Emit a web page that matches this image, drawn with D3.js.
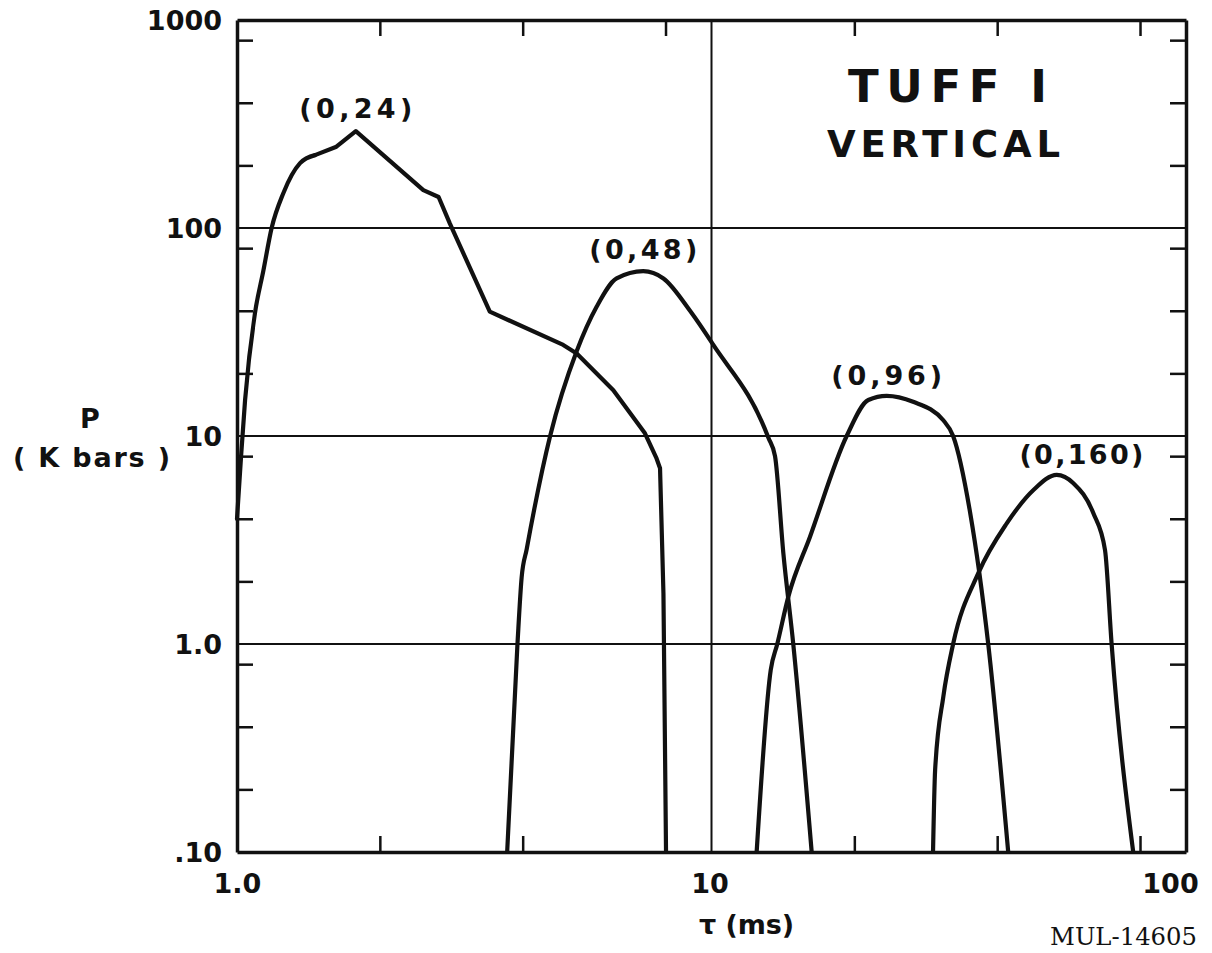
<!DOCTYPE html>
<html>
<head>
<meta charset="utf-8">
<script src="https://cdn.jsdelivr.net/npm/d3@7"></script>
<style>
  html, body { margin: 0; padding: 0; background: #fff; }
  svg { display: block; }
  text.lbl { font-family: "DejaVu Sans", sans-serif; font-weight: bold; fill: #111; }
  text.docno { font-family: "DejaVu Serif", "Liberation Serif", serif; font-weight: normal; fill: #111; }
</style>
</head>
<body>
<svg id="chart" width="1212" height="953"></svg>
<script>
// ---- Data ----
const xMajorTicks = [1, 10, 100];
const xMajorLabels = ["1.0", "10", "100"];
const yMajorTicks = [1000, 100, 10, 1, 0.1];
const yMajorLabels = ["1000", "100", "10", "1.0", ".10"];
const xMinorTicks = [2, 4, 8, 20, 40, 80];
const yMinorTicks = [0.2, 0.4, 0.8, 2, 4, 8, 20, 40, 80, 200, 400, 800];

const curveNames = ["(0,24)", "(0,48)", "(0,96)", "(0,160)"];

const tau_0_24 = [1.0, 1.02, 1.04, 1.091, 1.136, 1.183, 1.252, 1.358, 1.46, 1.62, 1.78, 2.47, 2.66, 2.81, 3.41, 4.87, 5.20, 6.21, 7.24, 7.66, 7.79, 7.92, 8.02];
const p_0_24   = [4.0, 8.0, 14.9, 38.9, 62, 100, 147, 205, 224, 246, 292, 152, 141, 105, 39.6, 27.4, 24.9, 16.6, 10.3, 7.8, 7.0, 1.75, 0.1];

const tau_0_48 = [3.71, 3.90, 3.98, 4.08, 4.57, 5.20, 5.73, 6.31, 7.18, 7.92, 9.01, 10.09, 13.18, 13.61, 14.17, 14.87, 16.26];
const p_0_48   = [0.1, 1.0, 2.09, 2.87, 10, 25.6, 41.9, 57.2, 62, 57.2, 40, 27.4, 9.8, 8.0, 2.74, 1.0, 0.1];

const tau_0_96 = [12.45, 13.33, 13.76, 14.52, 16.13, 19.27, 21.4, 23.4, 26.6, 30.8, 32.3, 35.1, 38.3, 42.2];
const p_0_96   = [0.1, 0.75, 1.0, 1.69, 3.28, 10, 14.9, 15.6, 14.6, 11.9, 10, 4.25, 1.0, 0.1];

const tau_0_160 = [29.3, 29.6, 30.8, 32.3, 36.5, 41.9, 47.7, 53.4, 57.9, 63.8, 67.5, 69.7, 77.4];
const p_0_160   = [0.1, 0.248, 0.558, 1.0, 2.19, 3.8, 5.5, 6.5, 5.93, 4.25, 2.83, 1.0, 0.1];

const curveLabelAnchor = [[1.78, 292], [7.18, 62], [23.4, 15.6], [57.9, 6.5]];

// ---- Layout ----
const svg = d3.select("#chart");
const L = 237, R = 1186, T = 20, B = 852;
const x = d3.scaleLog().domain([1, 100]).range([L, R]);
const y = d3.scaleLog().domain([0.1, 1000]).range([B, T]);
const ink = "#111";

// grid lines (major decades)
svg.append("g").selectAll("line")
  .data(yMajorTicks.filter(v => v > 0.1 && v < 1000))
  .join("line")
  .attr("x1", L).attr("x2", R)
  .attr("y1", d => y(d)).attr("y2", d => y(d))
  .attr("stroke", ink).attr("stroke-width", 2);
svg.append("g").selectAll("line")
  .data(xMajorTicks.filter(v => v > 1 && v < 100))
  .join("line")
  .attr("y1", T).attr("y2", B)
  .attr("x1", d => x(d)).attr("x2", d => x(d))
  .attr("stroke", ink).attr("stroke-width", 2);

// minor inward ticks on all four sides (the axis domains draw the frame)
const tick = 16;
function styleAxis(g) {
  g.selectAll("path.domain").attr("stroke", ink).attr("stroke-width", 3.5);
  g.selectAll(".tick line").attr("stroke", ink).attr("stroke-width", 2.5);
}
svg.append("g").attr("transform", `translate(0,${B})`)
  .call(d3.axisBottom(x).tickValues(xMinorTicks).tickSize(-tick).tickSizeOuter(0).tickFormat(""))
  .call(styleAxis);
svg.append("g").attr("transform", `translate(0,${T})`)
  .call(d3.axisTop(x).tickValues(xMinorTicks).tickSize(-tick).tickSizeOuter(0).tickFormat(""))
  .call(styleAxis);
svg.append("g").attr("transform", `translate(${L},0)`)
  .call(d3.axisLeft(y).tickValues(yMinorTicks).tickSize(-tick).tickSizeOuter(0).tickFormat(""))
  .call(styleAxis);
svg.append("g").attr("transform", `translate(${R},0)`)
  .call(d3.axisRight(y).tickValues(yMinorTicks).tickSize(-tick).tickSizeOuter(0).tickFormat(""))
  .call(styleAxis);

// major tick labels
const yLab = svg.append("g").attr("transform", `translate(${L},0)`)
  .call(d3.axisLeft(y).tickValues(yMajorTicks).tickSize(0).tickPadding(15)
    .tickFormat((d, i) => yMajorLabels[i]));
yLab.select("path.domain").remove();
yLab.selectAll("text").attr("class", "lbl").attr("font-size", 27).attr("dy", "0.36em");

const xLab = svg.append("g").attr("transform", `translate(0,${B})`)
  .call(d3.axisBottom(x).tickValues(xMajorTicks).tickSize(0).tickPadding(22)
    .tickFormat((d, i) => xMajorLabels[i]));
xLab.select("path.domain").remove();
xLab.selectAll("text").attr("class", "lbl").attr("font-size", 27);
xLab.selectAll(".tick").filter(d => d === 100).select("text").attr("dx", -16);
xLab.selectAll(".tick").filter(d => d === 10).select("text").attr("dx", -2);

// curves
const line = d3.line().x(d => x(d[0])).y(d => y(d[1]));
function drawPath(pts, curve) {
  svg.append("path")
    .datum(pts)
    .attr("fill", "none")
    .attr("stroke", ink)
    .attr("stroke-width", 4.2)
    .attr("stroke-linejoin", "round")
    .attr("stroke-linecap", "round")
    .attr("d", line.curve(curve)(pts));
}
// (0,24): smooth rise up to the shoulder, straight segments after it
const pts24 = tau_0_24.map((t, i) => [t, p_0_24[i]]);
drawPath(pts24.slice(0, 9), d3.curveMonotoneX);
drawPath(pts24.slice(8), d3.curveLinear);
[[tau_0_48, p_0_48], [tau_0_96, p_0_96], [tau_0_160, p_0_160]].forEach(([t, p]) => {
  drawPath(t.map((v, i) => [v, p[i]]), d3.curveMonotoneX);
});

// curve labels
const labelOffsets = [[0, -13], [0, -12], [0, -11], [8, -11]];
const labelWidths = [113, 108, 111, 124];
curveNames.forEach((n, i) => {
  const a = curveLabelAnchor[i];
  svg.append("text").attr("class", "lbl")
    .attr("x", x(a[0]) + labelOffsets[i][0] - labelWidths[i] / 2)
    .attr("y", y(a[1]) + labelOffsets[i][1])
    .attr("font-size", 27)
    .attr("textLength", labelWidths[i])
    .attr("lengthAdjust", "spacing")
    .text(n);
});

// title block
svg.append("text").attr("class", "lbl").attr("x", 848).attr("y", 102).attr("font-size", 45)
  .attr("textLength", 199).attr("lengthAdjust", "spacing").text("TUFF I");
svg.append("text").attr("class", "lbl").attr("x", 827).attr("y", 157).attr("font-size", 37)
  .attr("textLength", 233).attr("lengthAdjust", "spacing").text("VERTICAL");

// axis titles
svg.append("text").attr("class", "lbl").attr("x", 90).attr("y", 428).attr("text-anchor", "middle")
  .attr("font-size", 27).text("P");
svg.append("text").attr("class", "lbl").attr("x", 13).attr("y", 467).attr("font-size", 27)
  .attr("textLength", 157).attr("lengthAdjust", "spacing").text("( K  bars )");
svg.append("text").attr("class", "lbl").attr("x", 699).attr("y", 934).attr("font-size", 27)
  .attr("textLength", 95).attr("lengthAdjust", "spacing").text("τ  (ms)");

// document number
svg.append("text").attr("class", "docno").attr("x", 1050).attr("y", 945)
  .attr("font-size", 25)
  .attr("textLength", 147).attr("lengthAdjust", "spacingAndGlyphs").text("MUL-14605");
</script>
</body>
</html>
